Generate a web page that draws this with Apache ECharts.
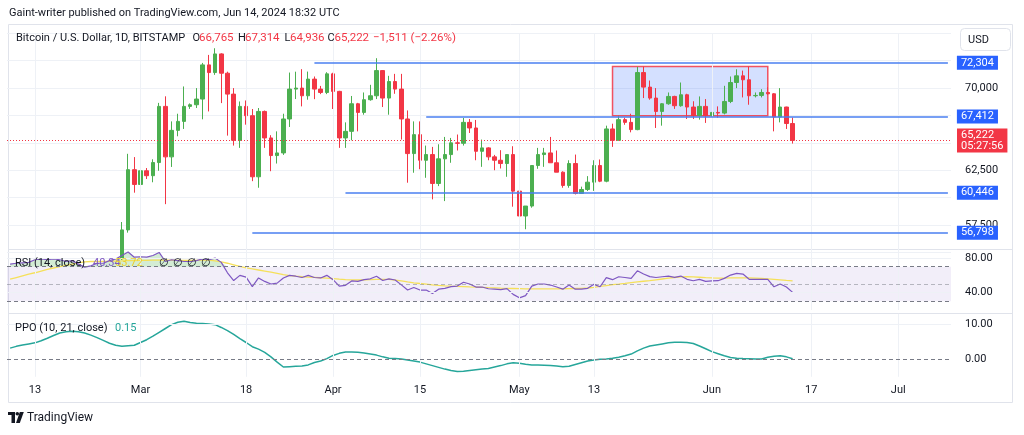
<!DOCTYPE html>
<html>
<head>
<meta charset="utf-8">
<title>BTCUSD 1D</title>
<script src="https://cdn.jsdelivr.net/npm/echarts@6/dist/echarts.min.js"></script>
<style>
  html, body { margin: 0; padding: 0; background: #fff; }
  #main { width: 1024px; height: 435px; }
</style>
</head>
<body>
<div id="main"></div>
<script>
// ---- data ----
var firstDay = '2024-02-09';
var lastDay = '2024-07-09';
var candleStart = '2024-02-27';
var indicatorStart = '2024-02-09';

var tickDates = ['2024-02-13', '2024-03-01', '2024-03-18', '2024-04-01', '2024-04-15', '2024-05-01', '2024-05-13', '2024-06-01', '2024-06-17', '2024-07-01'];
var tickTexts = ['13', 'Mar', '18', 'Apr', '15', 'May', '13', 'Jun', '17', 'Jul'];

var opens = [54480, 57050, 62550, 61200, 62450, 62000, 63200, 68330, 63720, 66140,
  66960, 68330, 68480, 69000, 72120, 71420, 73120, 71360, 69450, 65230,
  68330, 67480, 61900, 67870, 65450, 63840, 64080, 67180, 69910, 70000,
  69300, 70820, 69910, 69600, 71300, 69700, 65450, 66050, 68570, 67780,
  68940, 69300, 71600, 69090, 70600, 69910, 67180, 64020, 65750, 63410,
  63930, 61290, 63540, 63930, 65000, 64960, 66870, 66360, 64230, 64540,
  63720, 63410, 63110, 63930, 60590, 58320, 59230, 62930, 63930, 64080,
  63180, 62320, 61110, 63110, 60380, 60740, 61410, 62930, 61500, 66270,
  65230, 67120, 66870, 66210, 71420, 70090, 69090, 67870, 68570, 69240,
  68390, 69390, 68270, 67480, 68330, 67480, 67780, 67720, 68780, 70510,
  71120, 70760, 69300, 69330, 69600, 69480, 67360, 68270, 66765];
var highs = [57770, 64000, 63700, 63300, 62700, 63500, 68650, 69250, 66960, 67660,
  70150, 68600, 70000, 72300, 73030, 73640, 73180, 71500, 70000, 68780,
  68870, 68090, 68180, 67950, 65700, 66050, 67660, 71420, 71500, 71730,
  71510, 71060, 70200, 71450, 71400, 69750, 66870, 69280, 68650, 69600,
  70300, 72730, 71650, 71120, 71300, 71300, 67960, 66960, 66960, 64750,
  64630, 64870, 65540, 65450, 65760, 67270, 67180, 67090, 65300, 64600,
  63900, 64330, 63930, 64690, 60700, 59230, 62930, 64540, 64540, 65540,
  64300, 62400, 63410, 63930, 61000, 61960, 63410, 63480, 66570, 66750,
  67480, 67300, 67660, 71940, 71960, 70690, 70000, 68630, 69600, 69300,
  70510, 69480, 68800, 69240, 69000, 67800, 68330, 70210, 71060, 71720,
  71600, 71960, 69600, 69900, 70080, 69540, 70000, 68300, 67314];
var lows = [54300, 56800, 60450, 60900, 61700, 61400, 62450, 59400, 62800, 65600,
  66270, 68100, 68180, 67150, 67870, 71210, 68630, 65660, 64750, 64540,
  66660, 61500, 60900, 64540, 62410, 63110, 63900, 66450, 69000, 68330,
  68940, 68990, 69450, 69450, 68090, 64540, 64540, 65230, 66050, 67570,
  68850, 69000, 68270, 67570, 69480, 65300, 61360, 62270, 62590, 61810,
  59840, 61050, 59680, 63180, 64300, 64750, 65900, 63410, 62810, 63410,
  62500, 62660, 61900, 59170, 56560, 57110, 59080, 62630, 62810, 63180,
  62320, 60900, 60900, 60290, 60380, 60600, 60610, 61410, 61400, 64630,
  65230, 66650, 65960, 66150, 69090, 68940, 66360, 66570, 68480, 68100,
  68300, 67180, 67180, 67120, 66820, 67420, 67300, 67600, 68630, 70000,
  69150, 68480, 69150, 69150, 69390, 66050, 66870, 66270, 64936];
var closes = [57050, 62550, 61200, 62450, 62000, 63200, 68330, 63720, 66140, 66960,
  68330, 68480, 69000, 72120, 71420, 73120, 71360, 69450, 65230, 68330,
  67480, 61900, 67870, 65450, 63840, 64080, 67180, 69910, 70000, 69300,
  70820, 69910, 69600, 71300, 69700, 65450, 66050, 68570, 67780, 68940,
  69300, 71600, 69090, 70600, 69910, 67180, 64020, 65750, 63410, 63930,
  61290, 63540, 63930, 65000, 64960, 66870, 66360, 64230, 64540, 63720,
  63410, 63110, 63930, 60590, 58320, 59230, 62930, 63930, 64080, 63180,
  62320, 61110, 63110, 60380, 60740, 61410, 62930, 61500, 66270, 65230,
  67120, 66870, 66210, 71420, 70090, 69090, 67870, 68570, 69240, 68390,
  69390, 68270, 67480, 68330, 67480, 67780, 67720, 68780, 70510, 71120,
  70760, 69300, 69330, 69600, 69480, 67360, 68270, 66765, 65222];

var rsiValues = [73, 74, 74.5, 75, 78, 79, 78, 79, 78, 76,
  77, 73, 69.5, 71, 74, 74, 77, 79, 83, 87,
  81, 81.5, 81, 83, 86.5, 76, 78, 77, 76, 76,
  77, 79, 78, 80, 75, 63, 54, 60, 58, 47,
  57, 53, 50, 51, 57, 60, 59, 57.5, 60, 57.5,
  57, 60, 55, 47.5, 48.5, 53.5, 53, 55, 56, 59,
  54, 56, 54.6, 49, 43, 46, 43, 43, 39, 44,
  45, 47, 47.6, 52, 50, 46.5, 46.5, 44.5, 44, 43.5,
  44.6, 38, 34, 36.5, 47.6, 50, 50, 48.8, 46.5, 44,
  48.8, 44, 44, 45, 49.6, 46.8, 57.3, 55, 58.4, 57.5,
  56.5, 65.3, 61.5, 58.5, 57.5, 58.4, 59.2, 57.7, 59.2, 55.4,
  53.8, 55.4, 53, 53.5, 53.8, 56.5, 60.3, 62.3, 61.5, 55.4,
  55.3, 55.4, 55.4, 46.8, 50, 46.5, 40.34];
var rsiMa = [55.5, 57.5, 59.5, 61.5, 63, 65, 66.8, 68.5, 70, 71.5,
  73, 74.5, 75.5, 76, 76, 76.2, 76.3, 76.5, 76.7, 77,
  77, 77.2, 77.3, 77.5, 77.7, 77.7, 77.5, 77.3, 77.2, 77.2,
  77.3, 77.5, 77.5, 76.8, 75.5, 74, 72.2, 70.4, 68.6, 67.4,
  66.2, 65, 63.6, 62.2, 60.8, 59.8, 59, 58.4, 58, 57.6,
  57.2, 56.8, 56.3, 55.6, 55, 54.7, 54.6, 54.8, 55, 55.3,
  55.4, 55.3, 54.6, 53.5, 52.4, 51.4, 50.6, 49.8, 49, 48.4,
  47.9, 47.5, 47.2, 46.9, 46.6, 46.4, 46.2, 45.8, 45.5, 45.2,
  45, 44.8, 44.6, 44.4, 44.3, 44.3, 44.3, 44.3, 44.4, 44.5,
  44.6, 44.8, 45, 45.4, 46.2, 47.2, 48.2, 49.2, 49.9, 50.7,
  51.6, 52.5, 53.2, 53.8, 54.8, 55.8, 56.7, 57.5, 58.2, 58.4,
  58.2, 57.8, 57.4, 57.1, 56.9, 56.9, 57, 57.1, 57.1, 57,
  56.8, 56.4, 56, 55.4, 54.8, 54.2, 53.72];
var ppoValues = [3.2, 3.7, 4.1, 4.4, 4.7, 5.3, 6.0, 6.8, 7.5, 7.85,
  8.0, 7.85, 7.5, 6.9, 6.2, 5.4, 4.6, 4.0, 3.7, 3.9,
  4.0, 4.8, 5.6, 6.6, 7.7, 8.8, 9.9, 10.6, 10.9, 10.5,
  10.3, 10.2, 10.1, 9.9, 9.1, 8.2, 7.1, 5.9, 4.8, 3.6,
  2.9, 2.0, 0.7, -0.8, -2.2, -2.1, -2.0, -1.9, -1.6, -0.9,
  -0.5, 0.2, 1.1, 1.7, 2.1, 2.1, 2.0, 1.8, 1.5, 1.2,
  0.7, 0.3, 0.2, 0.1, -0.2, -0.5, -0.8, -1.3, -1.8, -2.3,
  -2.8, -3.2, -3.5, -3.4, -3.2, -3.0, -2.8, -2.6, -2.2, -1.8,
  -1.3, -1.0, -1.1, -1.4, -1.6, -1.6, -1.7, -1.8, -1.9, -2.1,
  -2.0, -1.5, -1.0, -0.5, -0.2, 0.0, 0.1, 0.3, 0.6, 1.0,
  1.5, 2.4, 3.2, 3.8, 4.1, 4.4, 4.7, 4.85, 4.9, 4.8,
  4.5, 3.8, 3.0, 2.2, 1.6, 1.0, 0.5, 0.3, 0.2, 0.15,
  0.1, 0.1, 0.6, 0.9, 1.0, 0.7, 0.15];

var levelValues = [72304, 67412, 60446, 56798];
var levelStarts = ['2024-03-29', '2024-04-16', '2024-04-03', '2024-03-19'];
var boxDates = ['2024-05-16', '2024-06-10'];
var boxPrices = [71965, 67480];
var lastPrice = 65222;
var countdown = '05:27:56';
var changeText = '\u22121,511 (\u22122.26%)';
var priceLabels = [70000, 62500, 57500];
var rsiLabels = [80, 40];
var ppoLabels = [10, 0];

// ---- style ----
var FONT = 'Roboto, "Liberation Sans", Arial, sans-serif';
var TEXT = '#131722';
var UP = '#4caf50';
var DOWN = '#f23645';
var GRID = '#eef1f6';
var BORDER = '#e0e3eb';
var DASH = '#787b86';

var myChart = echarts.init(document.getElementById('main'));

//日期类别
function buildDays(start, end) {
  var out = [];
  var d = new Date(start + 'T00:00:00Z');
  var e = new Date(end + 'T00:00:00Z');
  while (d <= e) {
    out.push(d.toISOString().slice(0, 10));
    d.setUTCDate(d.getUTCDate() + 1);
  }
  return out;
}
var categories = buildDays(firstDay, lastDay);
var lastCat = categories[categories.length - 1];

function padSeries(values, startDate) {
  var start = categories.indexOf(startDate);
  var out = [];
  for (var i = 0; i < categories.length; i++) {
    var k = i - start;
    out.push(k >= 0 && k < values.length ? values[k] : '-');
  }
  return out;
}

function fmtNum(v) {
  return String(v).replace(/\B(?=(\d{3})+(?!\d))/g, ',');
}

// candles as [date, open, close, low, high]
var c0 = categories.indexOf(candleStart);
var candleData = [];
for (var i = 0; i < closes.length; i++) {
  candleData.push([categories[c0 + i], opens[i], closes[i], lows[i], highs[i]]);
}

// overbought fill (RSI above 70)
var obBase = [], obOver = [];
for (var j = 0; j < rsiValues.length; j++) {
  obBase.push(70);
  obOver.push(Math.max(rsiValues[j] - 70, 0));
}

function isTick(index, value) {
  return tickDates.indexOf(value) >= 0;
}

function makeX(gridIndex, showLabels) {
  return {
    type: 'category',
    gridIndex: gridIndex,
    data: categories,
    boundaryGap: true,
    axisLine: { show: false },
    axisTick: { show: false },
    splitLine: { show: false },
    axisLabel: {
      show: showLabels,
      interval: isTick,
      formatter: function (v) { return tickTexts[tickDates.indexOf(v)]; },
      color: TEXT,
      fontSize: 11,
      fontFamily: FONT,
      margin: 8
    }
  };
}

function makeY(gridIndex, min, max, interval, labelFn, split) {
  return {
    type: 'value',
    gridIndex: gridIndex,
    position: 'right',
    min: min,
    max: max,
    interval: interval,
    axisLine: { show: false },
    axisTick: { show: false },
    splitLine: { show: split, lineStyle: { color: GRID, width: 1 } },
    axisLabel: {
      margin: 14,
      color: TEXT,
      fontSize: 11,
      fontFamily: FONT,
      formatter: labelFn
    }
  };
}

function vLines() {
  var out = [];
  for (var k = 0; k < tickDates.length; k++) out.push({ xAxis: tickDates[k] });
  return out;
}

function blankSeries() {
  var data = [];
  for (var k = 0; k < categories.length; k++) data.push('-');
  return data;
}

function hLine(value, color, dash) {
  return { yAxis: value, lineStyle: { color: color, type: dash, width: 1 } };
}

// level lines
var levelLines = [];
for (var m = 0; m < levelValues.length; m++) {
  levelLines.push([
    { coord: [levelStarts[m], levelValues[m]], value: levelValues[m] },
    { coord: [lastCat, levelValues[m]], value: levelValues[m] }
  ]);
}
levelLines.push({
  yAxis: lastPrice,
  lineStyle: { color: DOWN, type: [1, 2], width: 1 },
  label: {
    formatter: fmtNum(lastPrice) + '\n' + countdown,
    backgroundColor: DOWN,
    lineHeight: 11,
    padding: [1, 4, 1, 4],
    distance: 6
  }
});

function txt(x, y, s, color, size, weight) {
  return {
    type: 'text', x: x, y: y, silent: true, z: 20,
    style: {
      text: s, fill: color,
      font: (weight || 'normal') + ' ' + size + 'px ' + FONT,
      textAlign: 'left', textVerticalAlign: 'middle',
      align: 'left', verticalAlign: 'middle'
    }
  };
}

var nLast = closes.length - 1;
var graphics = [
  { type: 'rect', silent: true, z: -1, shape: { x: 8.5, y: 24.5, width: 1004, height: 378 }, style: { fill: 'none', stroke: BORDER, lineWidth: 1 } },
  { type: 'line', silent: true, shape: { x1: 8, y1: 249.5, x2: 1013, y2: 249.5 }, style: { stroke: BORDER, lineWidth: 1 } },
  { type: 'line', silent: true, shape: { x1: 8, y1: 313.5, x2: 1013, y2: 313.5 }, style: { stroke: BORDER, lineWidth: 1 } },
  txt(9, 13, 'Gaint-writer published on TradingView.com, Jun 14, 2024 18:32 UTC', TEXT, 11),
  txt(16, 38, 'Bitcoin / U.S. Dollar, 1D, BITSTAMP', TEXT, 11),
  txt(192.5, 38, 'O', TEXT, 11),
  txt(199, 38, fmtNum(opens[nLast]), DOWN, 11.5),
  txt(238, 38, 'H', TEXT, 11),
  txt(245, 38, fmtNum(highs[nLast]), DOWN, 11.5),
  txt(284.5, 38, 'L', TEXT, 11),
  txt(290, 38, fmtNum(lows[nLast]), DOWN, 11.5),
  txt(327.5, 38, 'C', TEXT, 11),
  txt(334.5, 38, fmtNum(closes[nLast]), DOWN, 11.5),
  txt(373, 38, changeText, DOWN, 11.5),
  { type: 'rect', silent: true, z: 20, shape: { x: 960.5, y: 28.5, width: 50, height: 22, r: 4 }, style: { fill: '#fff', stroke: BORDER, lineWidth: 1 } },
  txt(968, 40, 'USD', TEXT, 11),
  txt(15, 263.5, 'RSI (14, close)', TEXT, 11),
  txt(93, 263.5, rsiValues[rsiValues.length - 1].toFixed(2), '#7e57c2', 11),
  txt(115, 263.5, rsiMa[rsiMa.length - 1].toFixed(2), '#e9cf2e', 11),
  txt(159, 263.5, '\u2205', TEXT, 11),
  txt(173, 263.5, '\u2205', TEXT, 11),
  txt(187, 263.5, '\u2205', TEXT, 11),
  txt(201, 263.5, '\u2205', TEXT, 11),
  txt(15, 328, 'PPO (10, 21, close)', TEXT, 11),
  txt(115, 328, ppoValues[ppoValues.length - 1].toFixed(2), '#26a69a', 11),
  // TradingView logo
  { type: 'rect', silent: true, shape: { x: 8, y: 412, width: 7, height: 3 }, style: { fill: TEXT } },
  { type: 'rect', silent: true, shape: { x: 11.5, y: 412, width: 3.5, height: 11 }, style: { fill: TEXT } },
  { type: 'circle', silent: true, shape: { cx: 17.3, cy: 413.8, r: 1.8 }, style: { fill: TEXT } },
  { type: 'polygon', silent: true, shape: { points: [[19.8, 412], [23.8, 412], [19.8, 423], [16, 423]] }, style: { fill: TEXT } },
  txt(27, 418, 'TradingView', TEXT, 12)
];

var option = {
  animation: false,
  backgroundColor: '#fff',
  textStyle: { fontFamily: FONT },
  grid: [
    { left: 7, right: 73, top: 33.35, height: 219, outerBoundsMode: 'none' },
    { left: 7, right: 73, top: 249.4, height: 60.55, outerBoundsMode: 'none' },
    { left: 7, right: 73, top: 313.8, height: 63, outerBoundsMode: 'none' }
  ],
  xAxis: [makeX(0, false), makeX(1, false), makeX(2, true)],
  yAxis: [
    makeY(0, 55000, 75000, 2500, function (v) { return priceLabels.indexOf(v) >= 0 ? fmtNum(v) : ''; }, true),
    makeY(1, 20, 90, 10, function (v) { return rsiLabels.indexOf(v) >= 0 ? v.toFixed(2) : ''; }, false),
    makeY(2, -5, 13, 5, function (v) { return ppoLabels.indexOf(v) >= 0 ? v.toFixed(2) : ''; }, false)
  ],
  series: [
    {
      name: 'gridMain', type: 'line', xAxisIndex: 0, yAxisIndex: 0, z: 1, silent: true,
      data: blankSeries(),
      markLine: { silent: true, symbol: ['none', 'none'], label: { show: false }, lineStyle: { color: GRID, type: 'solid', width: 1 }, data: vLines() }
    },
    {
      name: 'BTCUSD', type: 'candlestick', xAxisIndex: 0, yAxisIndex: 0, z: 3,
      clip: true,
      barWidth: 4,
      encode: { x: 0, y: [1, 2, 3, 4] },
      data: candleData,
      itemStyle: { color: UP, color0: DOWN, borderColor: UP, borderColor0: DOWN, borderWidth: 1 },
      markArea: {
        silent: true,
        itemStyle: { color: 'rgba(41,98,255,0.2)', borderColor: 'rgba(242,54,69,0.85)', borderWidth: 1.5 },
        data: [[{ coord: [boxDates[0], boxPrices[0]] }, { coord: [boxDates[1], boxPrices[1]] }]]
      },
      markLine: {
        silent: true,
        symbol: ['none', 'none'],
        lineStyle: { color: '#4a7ff0', type: 'solid', width: 1.6 },
        label: {
          show: true, position: 'end', distance: 9,
          formatter: function (p) { return fmtNum(p.value); },
          color: '#fff', backgroundColor: '#2962ff',
          fontSize: 11, fontFamily: FONT, padding: [2, 4, 1, 4]
        },
        data: levelLines
      }
    },
    {
      name: 'gridRsi', type: 'line', xAxisIndex: 1, yAxisIndex: 1, z: 1, silent: true,
      data: blankSeries(),
      markArea: { silent: true, itemStyle: { color: 'rgba(126,87,194,0.1)' }, data: [[{ yAxis: 30 }, { yAxis: 70 }]] },
      markLine: {
        silent: true, symbol: ['none', 'none'], label: { show: false },
        lineStyle: { color: GRID, type: 'solid', width: 1 },
        data: vLines().concat([
          hLine(80, GRID, 'solid'), hLine(40, GRID, 'solid'),
          hLine(70, DASH, [4, 3]), hLine(50, 'rgba(120,123,134,0.5)', [4, 3]), hLine(30, DASH, [4, 3])
        ])
      }
    },
    {
      name: 'obBase', type: 'line', xAxisIndex: 1, yAxisIndex: 1, stack: 'ob', z: 2, silent: true,
      symbol: 'none', lineStyle: { opacity: 0 },
      data: padSeries(obBase, indicatorStart)
    },
    {
      name: 'obFill', type: 'line', xAxisIndex: 1, yAxisIndex: 1, stack: 'ob', z: 2, silent: true,
      symbol: 'none', lineStyle: { opacity: 0 }, areaStyle: { color: 'rgba(76,175,80,0.35)' },
      data: padSeries(obOver, indicatorStart)
    },
    {
      name: 'RSI MA', type: 'line', xAxisIndex: 1, yAxisIndex: 1, z: 3, silent: true,
      symbol: 'none', lineStyle: { color: '#f5e05a', width: 1.3 },
      data: padSeries(rsiMa, indicatorStart)
    },
    {
      name: 'RSI', type: 'line', xAxisIndex: 1, yAxisIndex: 1, z: 4, silent: true,
      symbol: 'none', lineStyle: { color: '#7e57c2', width: 1.2 },
      data: padSeries(rsiValues, indicatorStart)
    },
    {
      name: 'gridPpo', type: 'line', xAxisIndex: 2, yAxisIndex: 2, z: 1, silent: true,
      data: blankSeries(),
      markLine: {
        silent: true, symbol: ['none', 'none'], label: { show: false },
        lineStyle: { color: GRID, type: 'solid', width: 1 },
        data: vLines().concat([hLine(10, GRID, 'solid'), hLine(0, DASH, [4, 3])])
      }
    },
    {
      name: 'PPO', type: 'line', xAxisIndex: 2, yAxisIndex: 2, z: 3, silent: true,
      symbol: 'none', lineStyle: { color: '#26a69a', width: 1.5 },
      data: padSeries(ppoValues, indicatorStart)
    }
  ],
  graphic: { elements: graphics }
};

myChart.setOption(option);
</script>
</body>
</html>
